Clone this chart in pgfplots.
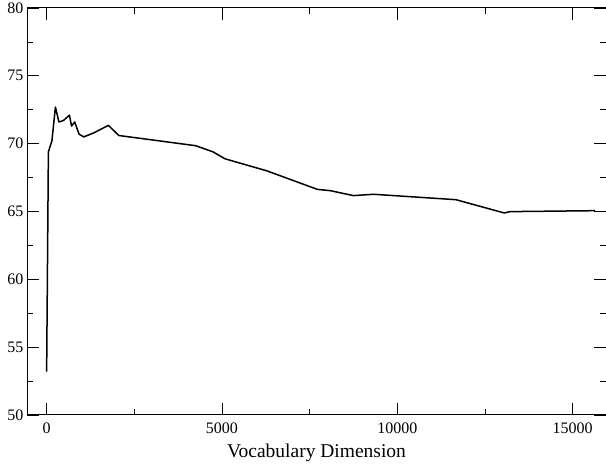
\documentclass[border=0pt]{standalone}
\usepackage{pgfplots}
\pgfplotsset{compat=1.18}
\usepackage{fontspec}
\setmainfont{Liberation Serif}
\begin{document}
\begin{tikzpicture}
\begin{axis}[
    scale only axis,
    width=579pt, height=407pt,
    xmin=-560, xmax=15950,
    ymin=50, ymax=80,
    xtick={0,5000,10000,15000},
    ytick={50,55,...,80},
    minor x tick num=1,
    minor y tick num=1,
    major tick length=12pt,
    minor tick length=6pt,
    tick style={black, line width=0.8pt},
    axis line style={line width=1pt},
    scaled ticks=false,
    /pgf/number format/assume math mode=true,
    /pgf/number format/1000 sep={},
    tick label style={font=\fontsize{16}{18}\selectfont},
    xticklabel style={yshift=-4pt},
    xlabel={Vocabulary Dimension},
    xlabel style={font=\fontsize{19.5}{22}\selectfont, yshift=-4pt},
]
\addplot[black, line width=1.5pt, line join=round] table {
x y
0 53.2
50 69.4
150 70.2
250 72.7
350 71.6
475 71.7
650 72.1
710 71.3
800 71.6
925 70.7
1060 70.5
1350 70.8
1760 71.35
2060 70.6
4250 69.85
4740 69.4
5090 68.88
6275 68.0
7720 66.63
8080 66.54
8750 66.17
9320 66.27
11670 65.87
13050 64.89
13215 64.99
15640 65.06
};
\end{axis}
\pgfresetboundingbox
\path ([xshift=-27pt,yshift=-57pt]current axis.south west) rectangle ([yshift=8pt]current axis.north east);
\end{tikzpicture}
\end{document}
